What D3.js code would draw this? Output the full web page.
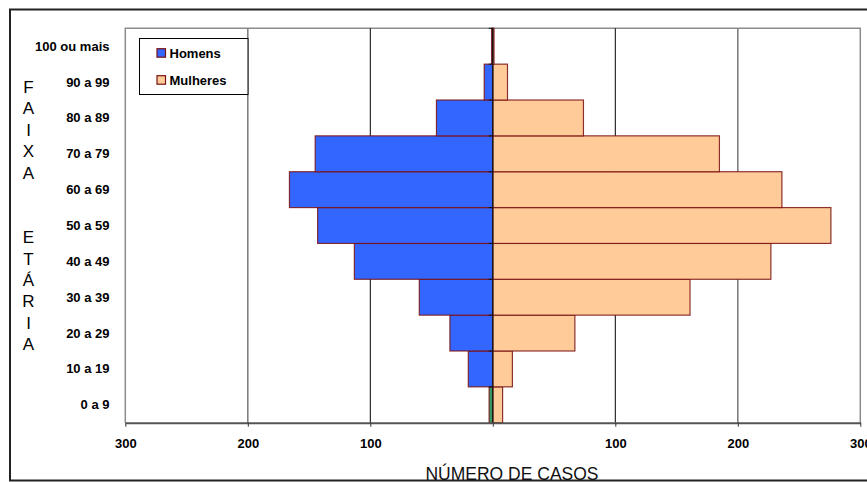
<!DOCTYPE html>
<html>
<head>
<meta charset="utf-8">
<script src="https://cdn.jsdelivr.net/npm/d3@7"></script>
<style>
  html, body { margin: 0; padding: 0; background: #fff; }
  svg { display: block; font-family: Arial, "Liberation Sans", sans-serif; }
</style>
</head>
<body>
<svg id="chart" width="867" height="482"></svg>
<script>
// Age groups, bottom to top
const categories = ["0 a 9", "10 a 19", "20 a 29", "30 a 39", "40 a 49", "50 a 59",
                    "60 a 69", "70 a 79", "80 a 89", "90 a 99", "100 ou mais"];
// Number of cases per age group
const homens   = [3, 20, 35, 60, 113, 143, 166, 145, 46, 7, 1];
const mulheres = [8, 16, 67, 161, 227, 276, 236, 185, 74, 12, 1];
// Axis ticks (absolute counts on both sides)
const xTicks = [-300, -200, -100, 0, 100, 200, 300];
const seriesNames = ["Homens", "Mulheres"];
const yTitleLines = ["F", "A", "I", "X", "A", "", "", "E", "T", "Á", "R", "I", "A"];
const xTitle = "NÚMERO DE CASOS";

const svg = d3.select("#chart");
const plot = { left: 125.3, right: 860.3, top: 28.3, bottom: 422.7 };

const x = d3.scaleLinear().domain([-300, 300]).range([plot.left, plot.right]);
const y = d3.scaleBand().domain(categories).range([plot.bottom, plot.top]).padding(0);

const blue = "#3366ff", peach = "#ffcc99", green = "#339966", edge = "#7a1010";

// Outer frame
svg.append("rect").attr("x", 10).attr("y", 9.5).attr("width", 870).attr("height", 471)
  .attr("fill", "none").attr("stroke", "#222").attr("stroke-width", 2);

// Plot border (left, top, right)
svg.append("path")
  .attr("d", `M${plot.left},${plot.bottom} V${plot.top} H${plot.right} V${plot.bottom}`)
  .attr("fill", "none").attr("stroke", "#8c8c8c").attr("stroke-width", 1.5);

// Gridlines
const grid = svg.append("g");
[-200, 200].forEach(v => grid.append("line")
  .attr("x1", x(v)).attr("x2", x(v)).attr("y1", plot.top).attr("y2", plot.bottom)
  .attr("stroke", "#808080").attr("stroke-width", 1.6));
[-100, 100].forEach(v => grid.append("line")
  .attr("x1", x(v)).attr("x2", x(v)).attr("y1", plot.top).attr("y2", plot.bottom)
  .attr("stroke", "#000").attr("stroke-width", 1));

// Bars
const bars = svg.append("g").attr("stroke", edge).attr("stroke-width", 1.2).attr("stroke-opacity", 0.85);
bars.selectAll("rect.h").data(categories).join("rect").attr("class", "h")
  .attr("x", (d, i) => x(-homens[i]))
  .attr("width", (d, i) => x(0) - x(-homens[i]))
  .attr("y", d => y(d)).attr("height", y.bandwidth())
  .attr("fill", d => d === "0 a 9" ? green : blue);
bars.selectAll("rect.m").data(categories).join("rect").attr("class", "m")
  .attr("x", x(0))
  .attr("width", (d, i) => x(mulheres[i]) - x(0))
  .attr("y", d => y(d)).attr("height", y.bandwidth())
  .attr("fill", peach);

// Central category axis with ticks at band boundaries
const center = svg.append("g");
center.append("line").attr("x1", x(0)).attr("x2", x(0)).attr("y1", plot.top).attr("y2", plot.bottom)
  .attr("stroke", "#111").attr("stroke-width", 1.3);
categories.forEach(c => center.append("line")
  .attr("x1", x(0) - 4).attr("x2", x(0)).attr("y1", y(c)).attr("y2", y(c))
  .attr("stroke", "#111").attr("stroke-width", 1));

// Bottom value axis
const xAxis = d3.axisBottom(x).tickValues(xTicks).tickSize(4).tickSizeOuter(0)
  .tickFormat(d => d === 0 ? "" : Math.abs(d));
const gx = svg.append("g").attr("transform", `translate(0,${plot.bottom})`).call(xAxis);
gx.select(".domain").attr("stroke", "#555").attr("stroke-width", 2);
gx.selectAll(".tick line").attr("stroke", "#333");
gx.selectAll(".tick text").attr("dy", null).attr("y", 21.5)
  .attr("dominant-baseline", "middle")
  .attr("font-size", 13).attr("font-weight", "bold").attr("fill", "#000")
  .attr("font-family", "Arial, 'Liberation Sans', sans-serif");

// Category labels on the left
svg.append("g").selectAll("text").data(categories).join("text")
  .attr("x", 109.5).attr("y", d => y(d) + y.bandwidth() / 2 + 1)
  .attr("text-anchor", "end").attr("dominant-baseline", "middle")
  .attr("font-size", 13).attr("font-weight", "bold").text(d => d);

// Vertical axis title, stacked letters
svg.append("g").selectAll("text").data(yTitleLines).join("text")
  .attr("x", 28.5).attr("y", (d, i) => 88.5 + i * 21.45)
  .attr("text-anchor", "middle").attr("dominant-baseline", "middle")
  .attr("font-size", 17).text(d => d);

// Horizontal axis title
svg.append("text").attr("x", 512).attr("y", 479.5)
  .attr("text-anchor", "middle").attr("font-size", 17.5).attr("fill", "#111").text(xTitle);

// Legend
const lg = svg.append("g");
lg.append("rect").attr("x", 139.5).attr("y", 38.5).attr("width", 108.5).attr("height", 56)
  .attr("fill", "#fff").attr("stroke", "#000").attr("stroke-width", 1);
seriesNames.forEach((s, i) => {
  const cy = 53 + i * 27;
  lg.append("rect").attr("x", 157).attr("y", cy - 4.3).attr("width", 8.5).attr("height", 8.5)
    .attr("fill", i === 0 ? blue : peach).attr("stroke", edge).attr("stroke-width", 1.2);
  lg.append("text").attr("x", 169.5).attr("y", cy + 1.5).attr("dominant-baseline", "middle")
    .attr("font-size", 13).attr("font-weight", "bold").text(s);
});
</script>
</body>
</html>
